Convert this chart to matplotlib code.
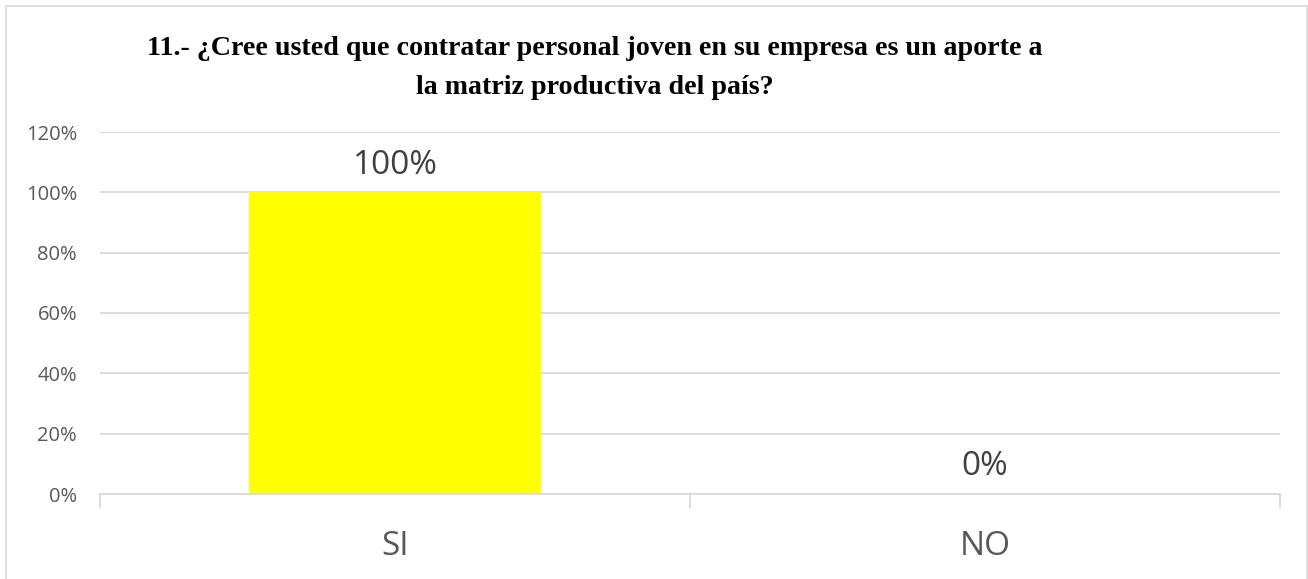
import matplotlib
matplotlib.use('Agg')
import matplotlib.pyplot as plt
from matplotlib.patches import Rectangle
from matplotlib.ticker import FuncFormatter

# ── data ─────────────────────────────────────────────────────────────
categories = ['SI', 'NO']
values     = [100, 0]
yticks     = [0, 20, 40, 60, 80, 100, 120]
title      = ('11.- ¿Cree usted que contratar personal joven en su empresa es un aporte a\n'
              'la matriz productiva del país?')

W, H, DPI = 1308, 579, 100
fig = plt.figure(figsize=(W / DPI, H / DPI), dpi=DPI, facecolor='white')

# chart-area border (Excel style), cut at the bottom
fig.patches.append(Rectangle((6 / W, -0.1), (1307 - 6) / W, 1.1 - 6 / H,
                             transform=fig.transFigure, fill=False,
                             edgecolor='#d9d9d9', lw=1.2))

ax = fig.add_axes([100 / W, 1 - 494 / H, (1280 - 100) / W, (494 - 132) / H])

xs = list(range(len(categories)))
ax.bar(xs, values, width=0.495, color='#ffff00', zorder=3)

ax.set_xlim(-0.5, len(categories) - 0.5)
ax.set_ylim(0, 120)
ax.set_yticks(yticks)
ax.yaxis.set_major_formatter(FuncFormatter(lambda v, p: f'{v:.0f}%'))
ax.grid(axis='y', color='#d9d9d9', lw=1.3, zorder=0)

for s in ('top', 'right', 'left'):
    ax.spines[s].set_visible(False)
ax.spines['bottom'].set_color('#d9d9d9')
ax.spines['bottom'].set_linewidth(1.3)
ax.spines['bottom'].set_zorder(4)

# category labels centred, tick marks at category boundaries
ax.set_xticks(xs)
ax.set_xticklabels(categories, fontsize=24, color='#595959', family='Open Sans')
ax.tick_params(axis='x', length=0, pad=26)
ax.set_xticks([-0.5 + i for i in range(len(categories) + 1)], minor=True)
ax.tick_params(axis='x', which='minor', length=10, width=1.3, color='#d9d9d9')
ax.tick_params(axis='y', length=0, pad=16.5, labelsize=14.5, labelcolor='#595959')
for lab in ax.get_yticklabels():
    lab.set_family('Open Sans')

# data labels
for x, v in zip(xs, values):
    ax.text(x, v + 9, f'{v}%', ha='center', va='center', fontsize=24,
            color='#404040', family='Open Sans')

fig.text(595 / W, 1 - 68 / H, title, ha='center', va='center',
         fontsize=20.2, fontweight='bold', family='Liberation Serif',
         linespacing=1.75)

fig.savefig('out.png', dpi=DPI, facecolor='white')
